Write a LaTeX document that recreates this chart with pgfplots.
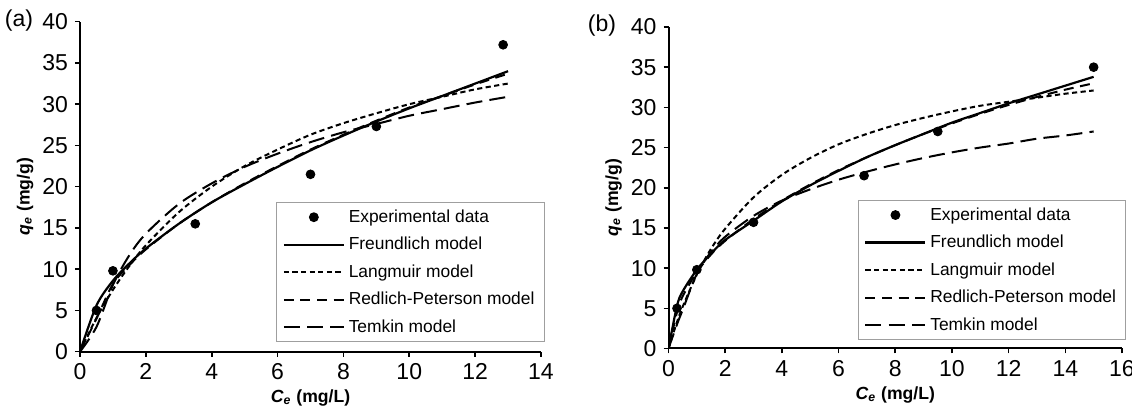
\documentclass[border=0pt]{standalone}
\usepackage{fontspec}
\setmainfont{Liberation Sans}
\usepackage{pgfplots}
\pgfplotsset{compat=1.18}

% isotherm panels: 1 px of the reference = 0.5pt
\pgfplotsset{
  iso/.style={
    scale only axis,
    axis lines=left,
    axis line style={-, line width=1pt},
    ymin=0, ymax=40, ytick={0,5,...,40},
    tick align=outside, major tick length=2.5pt,
    tick style={black, line width=0.8pt},
    tick label style={font=\fontsize{11.5}{12}\selectfont},
    /pgf/number format/assume math mode=true,
    label style={font=\fontsize{8.8}{10}\selectfont\bfseries},
    xlabel={\textit{C}\textsubscript{\textit{e}} (mg/L)},
    ylabel={\textit{q}\textsubscript{\textit{e}} (mg/g)},
    xlabel style={at={(axis description cs:0.5,0)}, anchor=center, yshift=-23pt},
    legend cell align=left,
    legend style={draw=gray!75, line width=0.5pt,
      font=\fontsize{8.7}{10}\selectfont, anchor=north west,
      inner xsep=3pt, inner ysep=0.5pt,
      nodes={text height=7pt, text depth=2pt,
        inner ysep=2.375pt, inner xsep=1.9pt}},
    legend image code/.code={\draw[##1] (0pt,0pt) -- (30pt,0pt);},
  },
  fr/.style={black, line width=1.1pt, smooth, no marks},
  la/.style={black, line width=1pt, smooth, no marks, dash pattern=on 2.6pt off 1.7pt},
  rp/.style={black, line width=1pt, smooth, no marks, dash pattern=on 5pt off 3.3pt},
  te/.style={black, line width=1pt, smooth, no marks, dash pattern=on 8pt off 3.6pt},
}

\pgfplotstableread{
C q
0.5 5.0
1.0 9.8
3.5 15.5
7.0 21.5
9.0 27.3
12.85 37.2
}\expA

\pgfplotstableread{
C fr rp la te
0 0 0 0 0
0.5 5.6 4.0 4.1 3.0
1 8.6 8.2 7.5 8.1
1.5 10.7 10.5 10.4 11.7
2 12.5 12.4 12.9 14.3
3 15.5 15.5 16.9 17.9
4 18.1 18.1 20.0 20.4
5 20.3 20.4 22.5 22.4
6 22.4 22.5 24.5 24.0
7 24.4 24.5 26.3 25.4
8 26.2 26.3 27.7 26.6
9 27.9 28.0 28.9 27.6
10 29.5 29.6 30.0 28.6
11 31.0 31.0 30.9 29.4
12 32.5 32.4 31.8 30.2
13 34.0 33.7 32.5 30.9
}\modA

\pgfplotstableread{
C q
0.3 5.0
1.0 9.8
3.0 15.7
6.9 21.5
9.5 27.0
15.0 35.0
}\expB

\pgfplotstableread{
C fr rp la te
0 0 0 0 0
0.3 5.3 4.5 3.3 3.0
0.5 7.1 6.5 5.2 4.8
1 9.8 9.5 9.2 9.3
1.5 11.8 11.7 12.4 12.0
2 13.5 13.4 14.9 13.9
3 15.9 16.1 18.8 16.5
4 18.3 18.4 21.6 18.4
5 20.3 20.4 23.7 19.8
6 22.1 22.2 25.4 21.0
7 23.8 23.8 26.7 22.0
8 25.3 25.3 27.8 22.9
9 26.7 26.7 28.7 23.7
10 28.1 28.0 29.5 24.4
11 29.3 29.2 30.2 25.0
12 30.5 30.3 30.7 25.5
13 31.6 31.3 31.2 26.1
14 32.7 32.2 31.7 26.5
15 33.8 33.0 32.1 27.0
}\modB

\begin{document}
\begin{tikzpicture}
\path[use as bounding box] (0pt,0pt) rectangle (566pt,205pt);

% panel (a)
\begin{axis}[iso,
  at={(40pt,29.15pt)}, anchor=south west,
  width=230.5pt, height=165pt,
  xmin=0, xmax=14, xtick={0,2,...,14},
  ylabel style={at={([xshift=-27.5pt]axis description cs:0,0.47)}, anchor=center},
  legend style={at={(axis cs:5.96,18.15)}},
]
\addplot[only marks, mark=*, mark size=2.2pt, black,
  legend image code/.code={\path (0pt,0pt) (30pt,0pt); \fill[black] (15pt,0pt) circle (2.2pt);}]
  table[x=C, y=q] {\expA};
\addlegendentry{Experimental data}
\addplot[fr] table[x=C, y=fr] {\modA};
\addlegendentry{Freundlich model}
\addplot[la] table[x=C, y=la] {\modA};
\addlegendentry{Langmuir model}
\addplot[rp] table[x=C, y=rp] {\modA};
\addlegendentry{Redlich-Peterson model}
\addplot[te] table[x=C, y=te] {\modA};
\addlegendentry{Temkin model}
\end{axis}

% panel (b)
\begin{axis}[iso,
  at={(334.25pt,30.75pt)}, anchor=south west,
  width=226.75pt, height=160.75pt,
  xmin=0, xmax=16, xtick={0,2,...,16},
  ylabel style={at={([xshift=-27.5pt]axis description cs:0,0.47)}, anchor=center},
  legend style={at={(axis cs:6.68,18.5)}},
]
\addplot[only marks, mark=*, mark size=2.2pt, black,
  legend image code/.code={\path (0pt,0pt) (30pt,0pt); \fill[black] (15pt,0pt) circle (2.2pt);}]
  table[x=C, y=q] {\expB};
\addlegendentry{Experimental data}
\addplot[fr] table[x=C, y=fr] {\modB};
\addlegendentry{Freundlich model}
\addplot[la] table[x=C, y=la] {\modB};
\addlegendentry{Langmuir model}
\addplot[rp] table[x=C, y=rp] {\modB};
\addlegendentry{Redlich-Peterson model}
\addplot[te] table[x=C, y=te] {\modB};
\addlegendentry{Temkin model}
\end{axis}

\node[font=\fontsize{11.5}{12}\selectfont] at (9.5pt,194.5pt) {(a)};
\node[font=\fontsize{11.5}{12}\selectfont] at (301pt,192pt) {(b)};
\end{tikzpicture}
\end{document}
